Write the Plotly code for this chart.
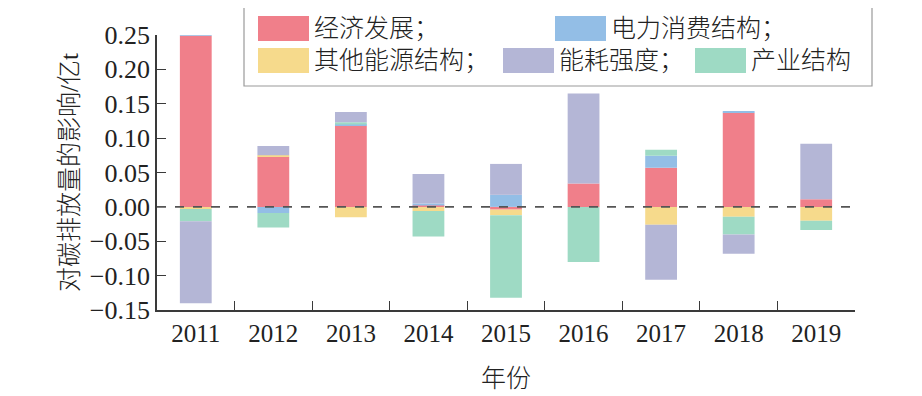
import plotly.graph_objects as go

years = ["2011", "2012", "2013", "2014", "2015", "2016", "2017", "2018", "2019"]

econ = [0.249, 0.073, 0.118, 0.002, -0.004, 0.034, 0.057, 0.137, 0.011]
other_energy = [-0.003, 0.002, -0.015, -0.006, -0.008, 0.0, -0.026, -0.0145, -0.020]
power = [0.004, -0.009, 0.002, 0.003, 0.0175, 0.0, 0.0174, 0.002, 0.0]
industry = [-0.018, -0.021, 0.003, -0.037, -0.120, -0.080, 0.0087, -0.0255, -0.0135]
intensity = [-0.119, 0.0135, 0.015, 0.043, 0.045, 0.131, -0.080, -0.028, 0.081]

names = ["经济发展", "其他能源结构", "电力消费结构", "产业结构", "能耗强度"]
colors = ["#F07F8A", "#F6DA8C", "#93BEE6", "#9EDAC4", "#B4B6D6"]
series = [econ, other_energy, power, industry, intensity]

FONT = "Liberation Serif, Noto Sans CJK SC, serif"
AX = "#3a3a3a"

fig = go.Figure()
for n, c, s in zip(names, colors, series):
    fig.add_trace(go.Bar(x=years, y=s, name=n, marker=dict(color=c, line=dict(width=0)),
                         width=0.41, showlegend=False))

OFF = 8  # page body margin
W, H = 922 - OFF, 396 - OFF
L, T = 157 - OFF, 35 - OFF
R = W - (855 - OFF)
B = H - (310 - OFF)
pw, ph = W - L - R, H - T - B

def px(x):
    return (x - OFF - L) / pw

def py(y):
    return (H - B - (y - OFF)) / ph

shapes = []
annotations = []
shapes.append(dict(type="line", xref="paper", yref="y", x0=0, x1=px(858), y0=0, y1=0,
                   line=dict(color="#555555", width=1.6, dash="dash")))
shapes.append(dict(type="rect", xref="paper", yref="paper", x0=px(244), x1=px(872),
                   y0=py(86), y1=py(4), line=dict(color="#9a9a9a", width=1.2),
                   fillcolor="rgba(0,0,0,0)"))
legend_items = [
    (0, 258, 16, "经济发展；"),
    (2, 555, 16, "电力消费结构；"),
    (1, 258, 48, "其他能源结构；"),
    (4, 503, 48, "能耗强度；"),
    (3, 695, 48, "产业结构"),
]
for idx, x0, y0, label in legend_items:
    shapes.append(dict(type="rect", xref="paper", yref="paper", x0=px(x0), x1=px(x0 + 51),
                       y0=py(y0 + 25), y1=py(y0), line=dict(width=0), fillcolor=colors[idx]))
    annotations.append(dict(xref="paper", yref="paper", x=px(x0 + 54), y=py(y0 + 12.5),
                            text=label, showarrow=False, xanchor="left", yanchor="middle",
                            font=dict(family=FONT, size=25, color="#222222", weight=300)))

fig.update_layout(
    width=W, height=H,
    margin=dict(l=L, r=R, t=T, b=B, autoexpand=False),
    barmode="relative",
    plot_bgcolor="white", paper_bgcolor="white",
    font=dict(family=FONT, size=25, color="#222222"),
    shapes=shapes, annotations=annotations,
)
fig.update_xaxes(
    showline=True, linecolor=AX, linewidth=1.6, ticks="inside", ticklen=9,
    tickcolor=AX, tickwidth=1.4, tickson="boundaries", showgrid=False,
    automargin=False,
    title=dict(text="年份", standoff=24, font=dict(size=25, weight=300)),
    range=[-0.5, 8.5],
)
fig.update_yaxes(
    showline=True, linecolor=AX, linewidth=1.6, ticks="inside", ticklen=9,
    tickcolor=AX, tickwidth=1.4, showgrid=False, zeroline=False, automargin=False,
    range=[-0.15, 0.25], dtick=0.05, tickformat=".2f",
    tickfont=dict(size=26),
    title=dict(text="对碳排放量的影响/亿t", standoff=4, font=dict(size=25, weight=300)),
)
fig.write_html("out.html")
